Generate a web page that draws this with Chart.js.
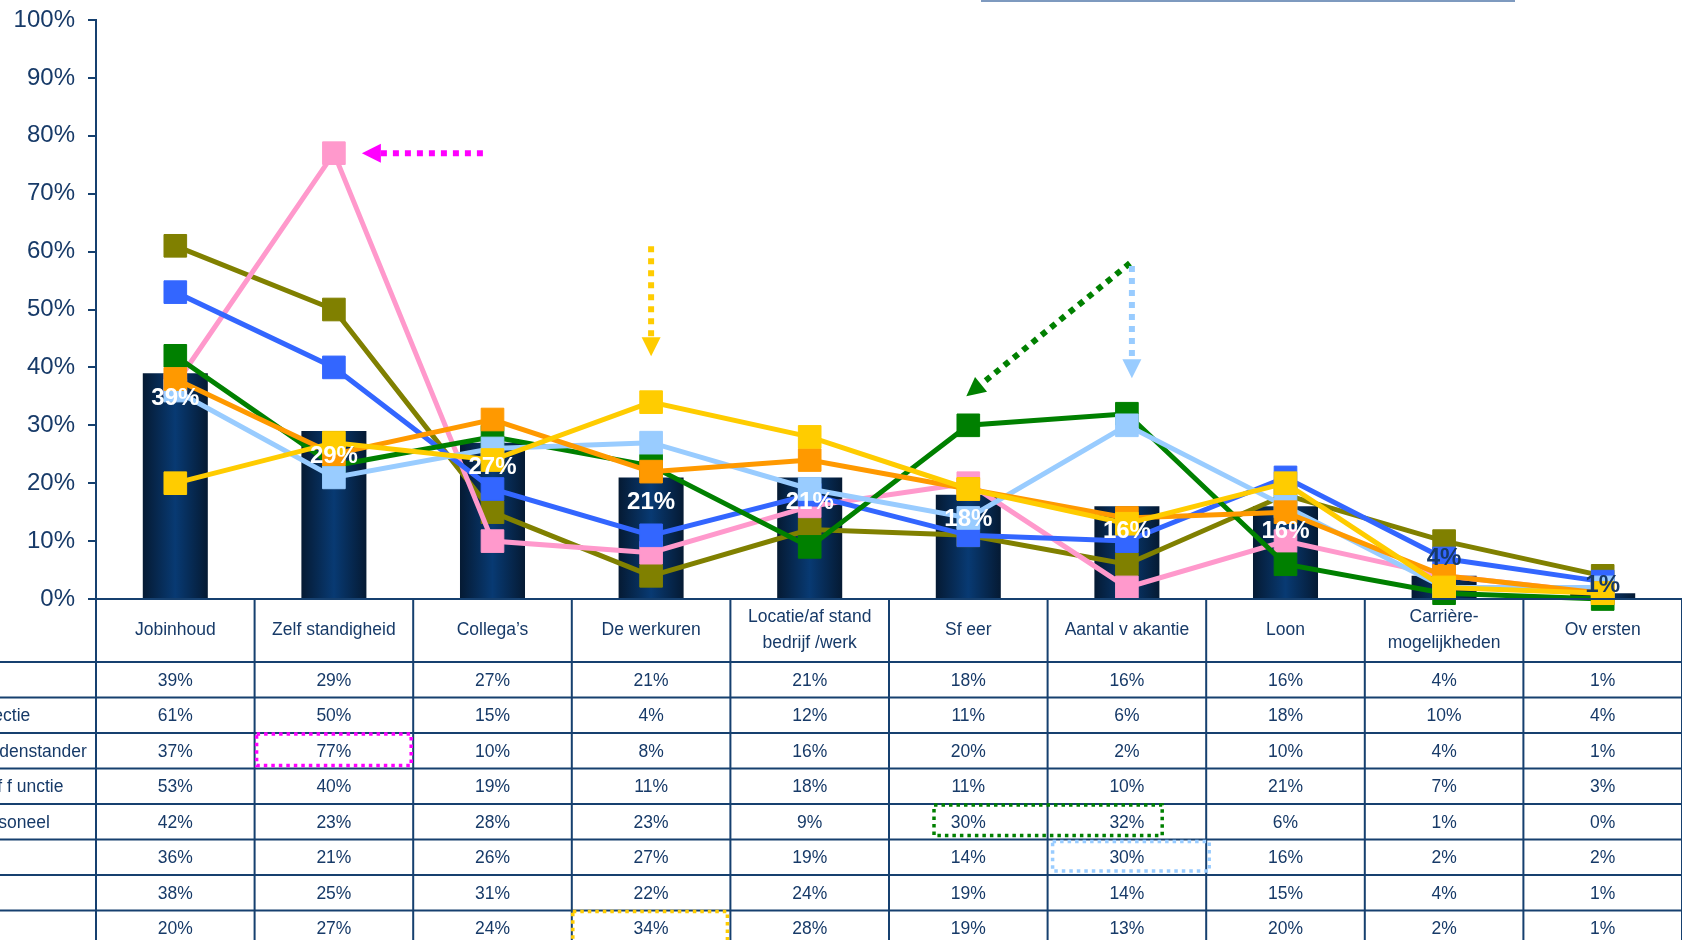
<!DOCTYPE html>
<html>
<head>
<meta charset="utf-8">
<script src="https://cdn.jsdelivr.net/npm/chart.js@4.4.1/dist/chart.umd.min.js"></script>
<style>
    html, body { margin: 0; padding: 0; background: #fff; overflow: hidden; }
    #wrap { width: 1682px; height: 940px; }
</style>
</head>
<body>
<div id="wrap"><canvas id="chart" width="1682" height="940"></canvas></div>
<script>
const categories = ['Jobinhoud', 'Zelf standigheid', 'Collega’s', 'De werkuren', 'Locatie/af stand\nbedrijf /werk',
    'Sf eer', 'Aantal v akantie', 'Loon', 'Carrière-\nmogelijkheden', 'Ov ersten'];
const yTicks = [0, 10, 20, 30, 40, 50, 60, 70, 80, 90, 100];

// rijen van de tabel (links afgesneden in het origineel)
const rowLabels = ['', 'Directie', 'Middenstander', 'Staf f unctie', 'Personeel', '', '', ''];

const totaal = [39, 29, 27, 21, 21, 18, 16, 16, 4, 1];
const reeks2 = [61, 50, 15, 4, 12, 11, 6, 18, 10, 4];
const reeks3 = [37, 77, 10, 8, 16, 20, 2, 10, 4, 1];
const reeks4 = [53, 40, 19, 11, 18, 11, 10, 21, 7, 3];
const reeks5 = [42, 23, 28, 23, 9, 30, 32, 6, 1, 0];
const reeks6 = [36, 21, 26, 27, 19, 14, 30, 16, 2, 2];
const reeks7 = [38, 25, 31, 22, 24, 19, 14, 15, 4, 1];
const reeks8 = [20, 27, 24, 34, 28, 19, 13, 20, 2, 1];

const lineSeries = [reeks2, reeks3, reeks4, reeks5, reeks6, reeks7, reeks8];
const lineColors = ['#808000', '#FF99CC', '#3366FF', '#008000', '#99CCFF', '#FF9900', '#FFCC00'];
const tableRows = [totaal, ...lineSeries];

const FONT = '"Liberation Sans", Arial, Helvetica, sans-serif';
const NAVY = '#173a68';
const LINE = '#16406f';
const ROW_H = 35.5;
const HEADER_H = 63;
const PLOT_TOP = 20;
const PLOT_BOTTOM = 599;

function barGradient(c) {
    const chart = c.chart;
    if (!chart.chartArea) return '#0a3366';
    const xs = chart.scales.x;
    const cx = xs.getPixelForValue(c.dataIndex);
    const half = xs.width / categories.length * 0.41 / 2;
    const g = chart.ctx.createLinearGradient(cx - half, 0, cx + half, 0);
    g.addColorStop(0, '#051a33');
    g.addColorStop(0.5, '#083a73');
    g.addColorStop(1, '#051a33');
    return g;
}

const datasets = [{
    type: 'bar',
    label: 'Totaal',
    data: totaal,
    backgroundColor: barGradient,
    barPercentage: 0.41,
    categoryPercentage: 1.0,
    order: 100
}];

lineSeries.forEach((s, i) => {
    datasets.push({
        type: 'line',
        label: rowLabels[i + 1] || ('reeks' + (i + 2)),
        data: s,
        borderColor: lineColors[i],
        backgroundColor: lineColors[i],
        pointBackgroundColor: lineColors[i],
        pointBorderColor: lineColors[i],
        borderWidth: 5,
        pointStyle: 'rect',
        pointRadius: 16,
        pointBorderWidth: 1,
        tension: 0,
        clip: false,
        order: 7 - i
    });
});

function dottedArrow(ctx, x1, y1, x2, y2, color) {
    const ang = Math.atan2(y2 - y1, x2 - x1);
    const headLen = 19, headW = 9.5;
    const bx = x2 - Math.cos(ang) * headLen, by = y2 - Math.sin(ang) * headLen;
    ctx.save();
    ctx.strokeStyle = color;
    ctx.fillStyle = color;
    ctx.lineWidth = 6;
    ctx.setLineDash([6, 6]);
    ctx.beginPath();
    ctx.moveTo(x1, y1);
    ctx.lineTo(bx, by);
    ctx.stroke();
    ctx.setLineDash([]);
    ctx.beginPath();
    ctx.moveTo(x2, y2);
    ctx.lineTo(bx + Math.sin(ang) * headW, by - Math.cos(ang) * headW);
    ctx.lineTo(bx - Math.sin(ang) * headW, by + Math.cos(ang) * headW);
    ctx.closePath();
    ctx.fill();
    ctx.restore();
}

function dottedRect(ctx, x1, y1, x2, y2, color) {
    ctx.save();
    ctx.strokeStyle = color;
    ctx.lineWidth = 3.5;
    ctx.setLineDash([3.5, 4]);
    ctx.strokeRect(x1, y1, x2 - x1, y2 - y1);
    ctx.restore();
}

// plotgebied vastzetten op de maten van het origineel
const fixArea = {
    id: 'fixArea',
    afterLayout(chart) {
        const area = chart.chartArea;
        area.top = PLOT_TOP;
        area.bottom = PLOT_BOTTOM;
        area.height = PLOT_BOTTOM - PLOT_TOP;
        const y = chart.scales.y;
        y.top = PLOT_TOP;
        y.bottom = PLOT_BOTTOM;
        y.height = PLOT_BOTTOM - PLOT_TOP;
        y.configure();
    }
};

const barLabels = {
    id: 'barLabels',
    afterDatasetsDraw(chart) {
        const ctx = chart.ctx;
        const meta = chart.getDatasetMeta(0);
        ctx.save();
        ctx.font = 'bold 24px ' + FONT;
        ctx.textAlign = 'center';
        ctx.textBaseline = 'middle';
        meta.data.forEach((bar, i) => {
            const v = totaal[i];
            const small = v < 10;
            ctx.fillStyle = small ? NAVY : '#ffffff';
            const y = small ? bar.y - (v * 3 + 5) : bar.y + 25;
            ctx.fillText(v + '%', bar.x, y);
        });
        ctx.restore();
    }
};

const dataTable = {
    id: 'dataTable',
    afterDraw(chart) {
        const ctx = chart.ctx;
        const area = chart.chartArea;
        const xs = chart.scales.x;
        const ys = chart.scales.y;
        const band = area.width / categories.length;
        const colLeft = i => area.left + i * band;
        const top = area.bottom;
        const rowTop = r => top + HEADER_H + r * ROW_H;
        const bottom = chart.height + 10;

        ctx.save();
        // lijnen
        ctx.strokeStyle = LINE;
        ctx.lineWidth = 2;
        ctx.beginPath();
        ctx.moveTo(area.left, top);
        ctx.lineTo(area.right, top);
        for (let r = 0; r <= tableRows.length; r++) {
            ctx.moveTo(0, rowTop(r));
            ctx.lineTo(area.right, rowTop(r));
        }
        for (let c = 0; c <= categories.length; c++) {
            ctx.moveTo(colLeft(c), top);
            ctx.lineTo(colLeft(c), bottom);
        }
        ctx.stroke();

        // kopteksten
        ctx.fillStyle = NAVY;
        ctx.font = '17.5px ' + FONT;
        ctx.textAlign = 'center';
        ctx.textBaseline = 'middle';
        categories.forEach((c, i) => {
            const lines = c.split('\n');
            const cx = colLeft(i) + band / 2;
            const cy = top + HEADER_H / 2;
            lines.forEach((l, k) => {
                ctx.fillText(l, cx, cy + (k - (lines.length - 1) / 2) * 26);
            });
        });

        // waarden
        tableRows.forEach((row, r) => {
            const cy = rowTop(r) + ROW_H / 2 + 1;
            row.forEach((v, i) => {
                ctx.fillText(v + '%', colLeft(i) + band / 2, cy);
            });
        });

        // rijlabels
        ctx.textAlign = 'left';
        rowLabels.forEach((l, r) => {
            if (l) ctx.fillText(l, -29, rowTop(r) + ROW_H / 2 + 1);
        });
        ctx.restore();

        // omkaderingen in de tabel
        dottedRect(ctx, colLeft(1) + 2, rowTop(2) + 1, colLeft(2) - 2, rowTop(3) - 3, '#FF00FF');
        dottedRect(ctx, colLeft(5) + 45, rowTop(4) + 1, colLeft(7) - 44, rowTop(5) - 4, '#008000');
        dottedRect(ctx, colLeft(6) + 5, rowTop(5) + 2, colLeft(7) + 3, rowTop(6) - 4, '#99CCFF');
        dottedRect(ctx, colLeft(3) + 1, rowTop(7) + 1, colLeft(4) - 3, rowTop(8) - 3, '#FFCC00');

        // pijlen
        dottedArrow(ctx, xs.getPixelForValue(1) + 149, ys.getPixelForValue(77), xs.getPixelForValue(1) + 28, ys.getPixelForValue(77), '#FF00FF');
        const yTip = ys.getPixelForValue(34) - 46;
        dottedArrow(ctx, xs.getPixelForValue(3), yTip - 110, xs.getPixelForValue(3), yTip, '#FFCC00');
        dottedArrow(ctx, xs.getPixelForValue(6) + 3, ys.getPixelForValue(58), xs.getPixelForValue(5) - 2, ys.getPixelForValue(30) - 29, '#008000');
        dottedArrow(ctx, xs.getPixelForValue(6) + 5, ys.getPixelForValue(57.5), xs.getPixelForValue(6) + 5, ys.getPixelForValue(30) - 47, '#99CCFF');

        // rand van het titelkader bovenaan
        ctx.save();
        ctx.strokeStyle = '#7e9abf';
        ctx.lineWidth = 2;
        ctx.beginPath();
        ctx.moveTo(981, 1);
        ctx.lineTo(1515, 1);
        ctx.stroke();
        ctx.restore();
    }
};

new Chart(document.getElementById('chart').getContext('2d'), {
    type: 'bar',
    data: { labels: categories, datasets: datasets },
    options: {
        responsive: false,
        animation: false,
        devicePixelRatio: 1,
        layout: { autoPadding: false, padding: { top: PLOT_TOP, bottom: 940 - PLOT_BOTTOM, left: 0, right: 0 } },
        plugins: {
            legend: { display: false },
            tooltip: { enabled: false }
        },
        scales: {
            x: { display: false, offset: true },
            y: {
                min: 0,
                max: 100,
                afterFit: s => { s.width = 96; },
                afterBuildTicks: s => { s.ticks = yTicks.map(v => ({ value: v })); },
                ticks: {
                    callback: v => v + '%',
                    color: NAVY,
                    font: { family: FONT, size: 24 },
                    padding: 13
                },
                grid: { display: true, drawOnChartArea: false, drawTicks: true, tickLength: 8, color: LINE, lineWidth: 2 },
                border: { display: true, color: LINE, width: 2 }
            }
        }
    },
    plugins: [fixArea, barLabels, dataTable]
});
</script>
</body>
</html>
